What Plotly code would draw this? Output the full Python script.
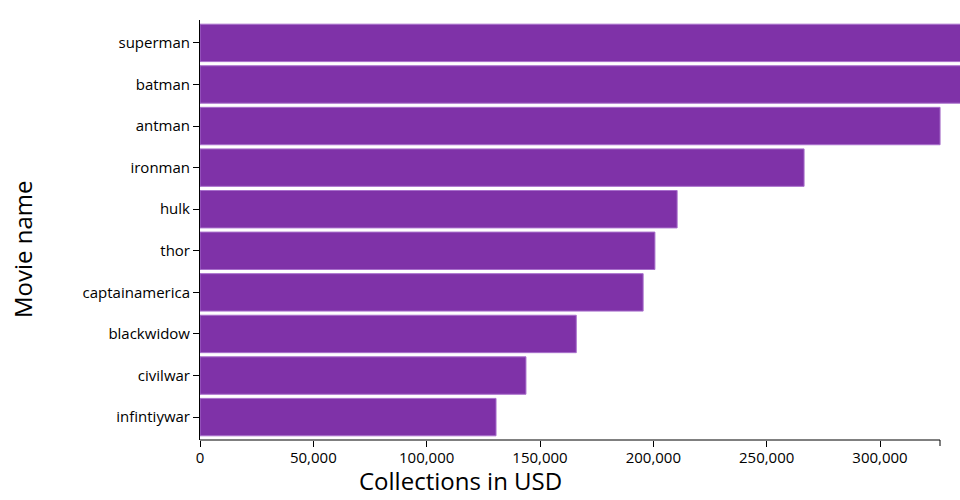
import plotly.graph_objects as go

movies = ["superman", "batman", "antman", "ironman", "hulk", "thor",
          "captainamerica", "blackwidow", "civilwar", "infintiywar"]
collections = [345000, 340000, 326500, 266500, 210500, 200700,
               195500, 166000, 143800, 130600]
x_ticks = [0, 50000, 100000, 150000, 200000, 250000, 300000]
x_tick_labels = ["0", "50,000", "100,000", "150,000", "200,000", "250,000", "300,000"]

axis_max = 326470          # end of the drawn x axis domain
view_max = axis_max * 760 / 740  # plot area extends to window edge
pad = 0.5505

fig = go.Figure(go.Bar(
    x=collections, y=movies, orientation="h",
    marker=dict(color="#7f32a8", line=dict(color="#a86fcb", width=1)),
))

font = "Open Sans, Noto Sans, sans-serif"
fig.update_layout(
    width=960, height=500,
    margin=dict(l=200, r=0, t=20, b=60),
    plot_bgcolor="white", paper_bgcolor="white",
    bargap=0.1, showlegend=False,
    font=dict(family=font, size=15, color="#000"),
    xaxis=dict(range=[0, view_max], tickvals=x_ticks, ticktext=x_tick_labels,
               ticks="outside", ticklen=6, tickcolor="#000", showgrid=False,
               zeroline=False, showline=False, tickfont=dict(size=15),
               ticklabelstandoff=-2),
    yaxis=dict(type="category", categoryorder="array", categoryarray=movies,
               range=[len(movies) - 1 + pad, -pad],
               ticks="outside", ticklen=6, tickcolor="#000", showgrid=False,
               showline=True, linecolor="#000", linewidth=1, tickfont=dict(size=15)),
    shapes=[
        dict(type="line", xref="x", yref="paper", x0=0, x1=axis_max, y0=0, y1=0,
             line=dict(color="#000", width=1)),
        dict(type="line", xref="x", yref="paper", ysizemode="pixel",
             yanchor=0, x0=axis_max, x1=axis_max, y0=0, y1=-6,
             line=dict(color="#000", width=1)),
        dict(type="line", xref="x", yref="paper", xsizemode="pixel", xanchor=0,
             x0=0, x1=-6, y0=1, y1=1, line=dict(color="#000", width=1)),
        dict(type="line", xref="x", yref="paper", xsizemode="pixel", xanchor=0,
             x0=0, x1=-6, y0=0, y1=0, line=dict(color="#000", width=1)),
    ],
    annotations=[
        dict(text="Collections in USD", xref="paper", yref="paper",
             x=(460 - 200) / 760, y=(440 - 480) / 420, xanchor="center", yanchor="middle",
             showarrow=False, borderpad=0, font=dict(size=24, family=font, color="#000")),
        dict(text="Movie name", xref="paper", yref="paper", textangle=-90,
             x=(22 - 200) / 760, y=(440 - 249) / 420, xanchor="center", yanchor="middle",
             showarrow=False, borderpad=0, font=dict(size=24, family=font, color="#000")),
    ],
)

fig.write_html("out.html", config={"displayModeBar": False},
               post_script="document.body.style.margin='0';document.body.style.overflow='hidden';")
